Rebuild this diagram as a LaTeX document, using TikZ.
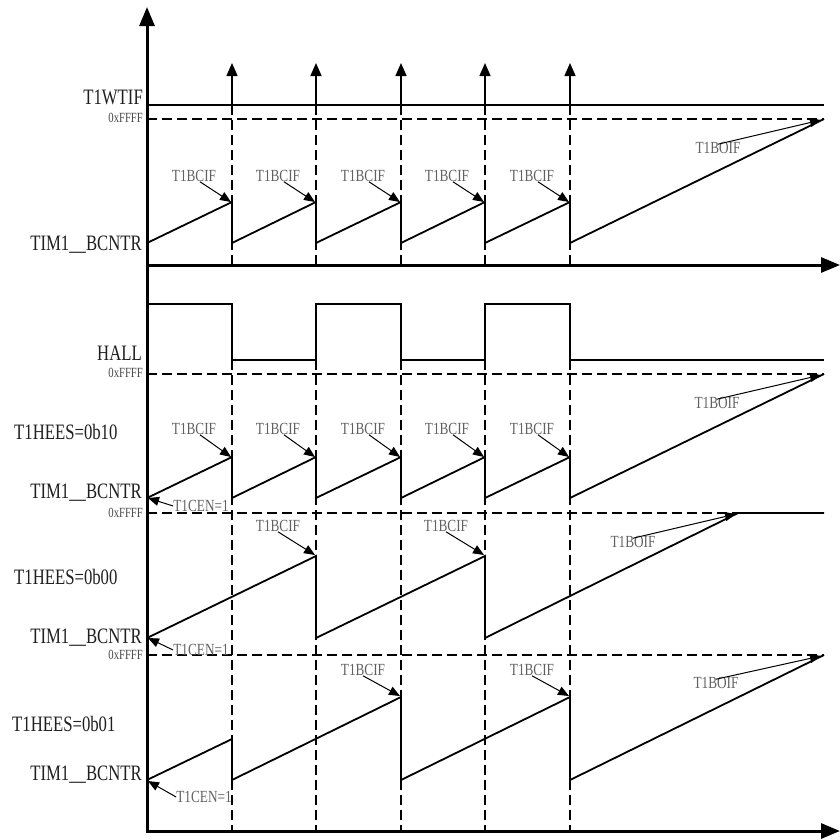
\documentclass[tikz,border=0pt]{standalone}
\usepackage{fontspec}
\setmainfont{Liberation Serif}[FakeStretch=0.76]
\newfontfamily\labfont{Liberation Serif}[FakeStretch=0.78]
\usetikzlibrary{arrows.meta}
\begin{document}
\begin{tikzpicture}[x=1pt,y=-1pt,
  axis/.style={line width=3pt,-{Triangle[length=19pt,width=15pt]}},
  sig/.style={line width=1.8pt,line join=miter},
  lvl/.style={line width=1.4pt},
  dashln/.style={line width=1.5pt,dash pattern=on 10pt off 5pt},
  upar/.style={line width=1.5pt,-{Triangle[length=13pt,width=11pt]}},
  lblar/.style={line width=1pt,-{Triangle[length=11pt,width=9pt]}},
  big/.style={font=\fontsize{22}{22}\selectfont,text=black!88,inner sep=0pt,text height=14.5pt,text depth=0pt},
  small/.style={font=\labfont\fontsize{17}{17}\selectfont,text=black!62,inner sep=0pt,text height=11.2pt,text depth=0pt},
  hex/.style={font=\fontsize{14}{14}\selectfont,text=black!72,inner sep=0pt,text height=9.3pt,text depth=0pt},
]
\useasboundingbox (0,0) rectangle (840,839);

% ---------- axes ----------
\draw[axis] (147,832) -- (147,7);
\draw[axis] (146,265) -- (840,265);
\draw[axis] (146,831) -- (840,831);

% ---------- vertical dashed guides and T1WTIF arrows ----------
\foreach \X in {232,316,401,485,570}{
  \draw[dashln] (\X,105) -- (\X,265);
  \draw[dashln] (\X,360) -- (\X,831);
  \draw[upar] (\X,105) -- (\X,63);
}

% ---------- horizontal dashed 0xFFFF lines ----------
\draw[dashln] (147,119) -- (824,119);
\draw[dashln] (147,374) -- (824,374);
\draw[dashln] (147,513) -- (824,513);
\draw[dashln] (147,655) -- (824,655);

% ---------- top section ----------
\draw[lvl] (147,105) -- (824,105);
\draw[sig] (147,243) -- (232,202) -- (232,243) -- (316,202) -- (316,243)
  -- (401,202) -- (401,243) -- (485,202) -- (485,243) -- (570,202) -- (570,243) -- (824,119);

\node[big,anchor=east] (wtif) at (143,97) {T1WTIF};
\node[hex,anchor=east] (hexa) at (143,118) {0xFFFF};
\node[big,anchor=east] (cnta) at (142,243) {TIM1\_\_BCNTR};

% ---------- HALL ----------
\draw[sig] (147,304) -- (232,304) -- (232,360) -- (316,360) -- (316,304) -- (401,304)
  -- (401,360) -- (485,360) -- (485,304) -- (570,304) -- (570,360) -- (824,360);
\node[big,anchor=east] (hall) at (142,353) {HALL};
\node[hex,anchor=east] (hexb) at (143,373) {0xFFFF};

% ---------- T1HEES=0b10 ----------
\draw[sig] (147,498) -- (232,457) -- (232,498) -- (316,457) -- (316,498) -- (401,457)
  -- (401,498) -- (485,457) -- (485,498) -- (570,457) -- (570,498) -- (824,374);
\node[big,anchor=west] (heesb) at (14,432) {T1HEES=0b10};
\node[big,anchor=east] (cntb) at (142,491) {TIM1\_\_BCNTR};
\node[hex,anchor=east] (hexc) at (143,513) {0xFFFF};

% ---------- T1HEES=0b00 ----------
\draw[sig] (147,638) -- (316,556) -- (316,638) -- (485,556) -- (485,638) -- (738,513) -- (824,513);
\node[big,anchor=west] (heesc) at (14,577) {T1HEES=0b00};
\node[big,anchor=east] (cntc) at (142,636) {TIM1\_\_BCNTR};
\node[hex,anchor=east] (hexd) at (143,655) {0xFFFF};

% ---------- T1HEES=0b01 ----------
\draw[sig] (147,780) -- (232,739) -- (232,780) -- (401,697) -- (401,780) -- (570,697)
  -- (570,780) -- (824,655);
\node[big,anchor=west] (heesd) at (12,724) {T1HEES=0b01};
\node[big,anchor=east] (cntd) at (142,773) {TIM1\_\_BCNTR};

% ---------- peak coordinates ----------
\foreach \X/\n in {232/1,316/2,401/3,485/4,570/5}{
  \coordinate (pa\n) at (\X-1,202);
  \coordinate (pb\n) at (\X-1,457);
}
\coordinate (pc2) at (315,555);
\coordinate (pc4) at (484,555);
\coordinate (pd3) at (400,696);
\coordinate (pd5) at (569,696);
\coordinate (oa) at (821,120);
\coordinate (ob) at (821,375);
\coordinate (oc) at (736,514);
\coordinate (od) at (821,656);
\coordinate (sb) at (148,498);
\coordinate (sc) at (148,638);
\coordinate (sd) at (148,781);

% ---------- T1BCIF labels ----------
\foreach \X/\n in {232/1,316/2,401/3,485/4,570/5}{
  \node[small] (ba\n) at (\X-38,176) {T1BCIF};
  \draw[lblar] ([xshift=6pt]ba\n.south) -- (pa\n);
  \node[small] (bb\n) at (\X-38,429) {T1BCIF};
  \draw[lblar] ([xshift=6pt]bb\n.south) -- (pb\n);
}
\node[small] (bc2) at (278,526) {T1BCIF};
\draw[lblar] (bc2.south) -- (pc2);
\node[small] (bc4) at (446,526) {T1BCIF};
\draw[lblar] (bc4.south) -- (pc4);
\node[small] (bd3) at (363,670) {T1BCIF};
\draw[lblar] (bd3.south) -- (pd3);
\node[small] (bd5) at (532,670) {T1BCIF};
\draw[lblar] (bd5.south) -- (pd5);

% ---------- T1BOIF labels ----------
\node[small] (ova) at (718,148) {T1BOIF};
\draw[lblar] ([yshift=-2pt]ova.north) -- (oa);
\node[small] (ovb) at (717,403) {T1BOIF};
\draw[lblar] ([yshift=-2pt]ovb.north) -- (ob);
\node[small] (ovc) at (633,542) {T1BOIF};
\draw[lblar] ([yshift=-2pt]ovc.north) -- (oc);
\node[small] (ovd) at (716,683) {T1BOIF};
\draw[lblar] ([yshift=-2pt]ovd.north) -- (od);

% ---------- T1CEN=1 labels ----------
\node[small] (enb) at (201,506) {T1CEN=1};
\draw[lblar] (enb.west) -- (sb);
\node[small] (enc) at (201,650) {T1CEN=1};
\draw[lblar] (enc.west) -- (sc);
\node[small] (end) at (204,797) {T1CEN=1};
\draw[lblar] (end.west) -- (sd);
\end{tikzpicture}
\end{document}
